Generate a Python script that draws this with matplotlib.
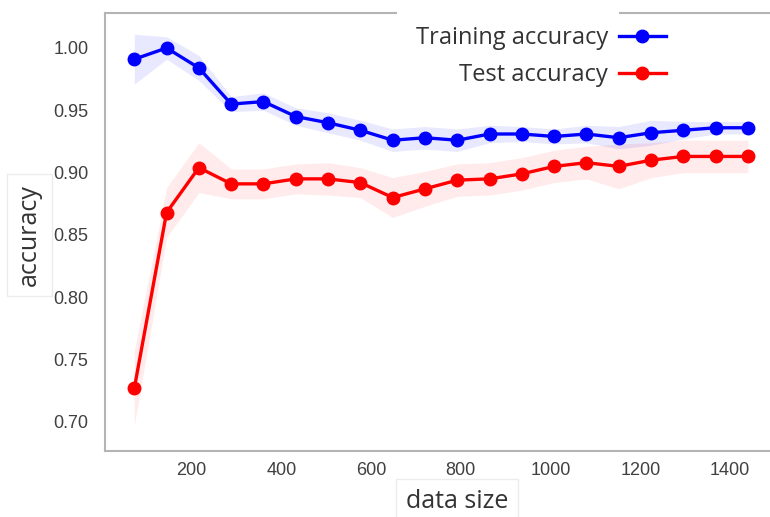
import numpy as np
import matplotlib.pyplot as plt
from matplotlib.patches import Rectangle

# learning curve: training set size vs accuracy (mean +- std over folds)
train_sizes = [72, 144, 216, 288, 360, 432, 504, 576, 648, 720,
               792, 864, 936, 1008, 1080, 1152, 1224, 1296, 1368, 1440]
train_mean = [0.991, 1.000, 0.984, 0.955, 0.957, 0.945, 0.940, 0.934, 0.926, 0.928,
              0.926, 0.931, 0.931, 0.929, 0.931, 0.928, 0.932, 0.934, 0.936, 0.936]
train_std = [0.020, 0.009, 0.010, 0.006, 0.007, 0.007, 0.008, 0.008, 0.009, 0.009,
             0.009, 0.007, 0.006, 0.006, 0.007, 0.009, 0.010, 0.007, 0.005, 0.005]
test_mean = [0.727, 0.868, 0.904, 0.891, 0.891, 0.895, 0.895, 0.892, 0.880, 0.887,
             0.894, 0.895, 0.899, 0.905, 0.908, 0.905, 0.910, 0.913, 0.913, 0.913]
test_std = [0.030, 0.020, 0.020, 0.012, 0.012, 0.012, 0.013, 0.012, 0.016, 0.014,
            0.013, 0.013, 0.013, 0.013, 0.013, 0.018, 0.014, 0.013, 0.013, 0.013]

train_sizes = np.array(train_sizes)
train_mean, train_std = np.array(train_mean), np.array(train_std)
test_mean, test_std = np.array(test_mean), np.array(test_std)

fig = plt.figure(figsize=(7.7, 5.17), dpi=100)
ax = fig.add_axes([105 / 770, 1 - 451 / 517, 673 / 770, (451 - 12.7) / 517])

ax.plot(train_sizes, train_mean, color='blue', marker='o', markersize=9, linewidth=2.4,
        label='Training accuracy')
ax.fill_between(train_sizes, train_mean - train_std, train_mean + train_std,
                color='blue', alpha=0.09, linewidth=0)
ax.plot(train_sizes, test_mean, color='red', marker='o', markersize=9, linewidth=2.4,
        label='Test accuracy')
ax.fill_between(train_sizes, test_mean - test_std, test_mean + test_std,
                color='red', alpha=0.08, linewidth=0)

ax.set_xlim(6.7, 1507)
ax.set_ylim(0.6767, 1.0283)
ax.set_xticks([200, 400, 600, 800, 1000, 1200, 1400])
ax.set_yticks([0.70, 0.75, 0.80, 0.85, 0.90, 0.95, 1.00])
ax.yaxis.set_major_formatter(plt.FormatStrFormatter('%.2f'))

tick_font = ['Liberation Sans Narrow', 'Liberation Sans']
for lab in ax.get_xticklabels() + ax.get_yticklabels():
    lab.set_family(tick_font)
    lab.set_fontsize(13)
    lab.set_color('#404040')
ax.tick_params(axis='both', length=0)
ax.tick_params(axis='y', pad=12)
ax.tick_params(axis='x', pad=8)

for sp in ax.spines.values():
    sp.set_color('#b4b4b4')
    sp.set_linewidth(1.5)

leg = ax.legend(loc='upper right', bbox_to_anchor=(0.865, 1.017), frameon=False,
                markerfirst=False, prop={'family': 'Open Sans', 'size': 17},
                handlelength=2.0, handletextpad=0.45, labelspacing=0.55)
for t in leg.get_texts():
    t.set_color('#333333')

# white strip over the top border behind the legend text
fig.add_artist(Rectangle((397 / 770, 1 - 17 / 517), (619 - 397) / 770, 9 / 517,
                         transform=fig.transFigure, facecolor='white',
                         edgecolor='none', zorder=10))

box = dict(boxstyle='square,pad=0.4', facecolor='white', edgecolor='#ececec', linewidth=1)
fig.text(29 / 770, 1 - 235 / 517, 'accuracy', rotation=90, ha='center', va='center',
         family='Open Sans', fontsize=18, color='#333333', bbox=box)
fig.text(457 / 770, 1 - 501 / 517, 'data size', ha='center', va='center',
         family='Open Sans', fontsize=18, color='#333333', bbox=box)

fig.savefig('out.png', dpi=100)
